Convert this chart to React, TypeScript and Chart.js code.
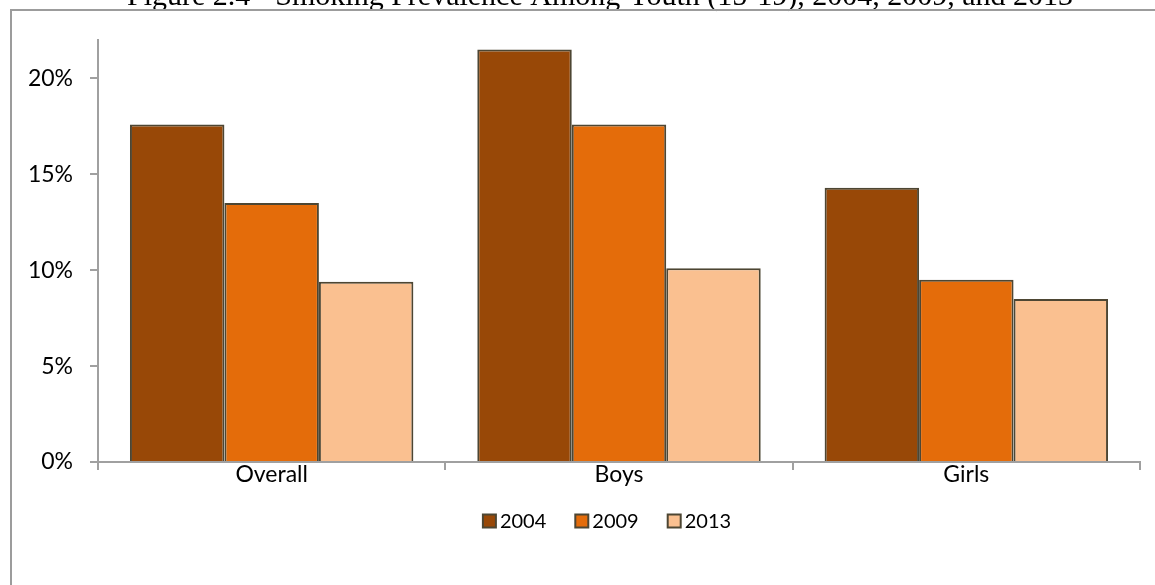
import React, { useEffect, useRef } from "react";
import { Chart, registerables } from "chart.js";

Chart.register(...registerables);

const TITLE = "Figure 2.4 - Smoking Prevalence Among Youth (15-19), 2004, 2009, and 2013";
const categories = ["Overall", "Boys", "Girls"];
const seriesYears = ["2004", "2009", "2013"];
const values2004 = [17.6, 21.5, 14.3];
const values2009 = [13.5, 17.6, 9.5];
const values2013 = [9.4, 10.1, 8.5];
const seriesColors = ["#984807", "#E46C0A", "#FAC090"];
const yTickStep = 5;
const yMax = 22;

const W = 1155;
const H = 585;
const LABEL_FONT = "Lato, 'Noto Sans', sans-serif";
const AXIS_COLOR = "#a0a0a0";
const BAR_BORDER = "#4d4633";

// Frame, clipped title line and legend, drawn around the plot.
const decorations = {
  id: "decorations",
  beforeDraw(chart: any) {
    const ctx = chart.ctx;
    ctx.save();
    ctx.fillStyle = "#ffffff";
    ctx.fillRect(0, 0, W, H);
    ctx.fillStyle = "#000000";
    ctx.font = "30px 'Liberation Serif', 'Times New Roman', serif";
    ctx.textAlign = "center";
    ctx.textBaseline = "alphabetic";
    ctx.fillText(TITLE, 600, 5);
    ctx.strokeStyle = "#9c9c9c";
    ctx.lineWidth = 2;
    ctx.beginPath();
    ctx.moveTo(11, H);
    ctx.lineTo(11, 10);
    ctx.lineTo(W, 10);
    ctx.stroke();
    ctx.restore();
  },
  afterDraw(chart: any) {
    const ctx = chart.ctx;
    const ds = chart.data.datasets;
    ctx.save();
    ctx.font = `20px ${LABEL_FONT}`;
    ctx.textBaseline = "middle";
    ctx.textAlign = "left";
    const box = 13;
    const gap = 4;
    const spacing = 29;
    const widths = ds.map((d: any) => box + gap + ctx.measureText(d.label).width);
    const total = widths.reduce((a: number, b: number) => a + b, 0) + spacing * (ds.length - 1);
    let x = 607 - total / 2;
    const y = 521;
    ds.forEach((d: any, i: number) => {
      ctx.fillStyle = d.backgroundColor;
      ctx.fillRect(x, y - box / 2, box, box);
      ctx.strokeStyle = BAR_BORDER;
      ctx.lineWidth = 2;
      ctx.strokeRect(x, y - box / 2, box, box);
      ctx.fillStyle = "#000000";
      ctx.fillText(d.label, x + box + gap, y + 1);
      x += widths[i] + spacing;
    });
    ctx.restore();
  },
};

export default function App() {
  const canvasRef = useRef<HTMLCanvasElement | null>(null);

  useEffect(() => {
    const canvas = canvasRef.current;
    if (!canvas) return;
    const seriesValues = [values2004, values2009, values2013];
    const chart = new Chart(canvas, {
      type: "bar",
      data: {
        labels: categories,
        datasets: seriesYears.map((year, i) => ({
          label: year,
          data: seriesValues[i],
          backgroundColor: seriesColors[i],
          borderColor: BAR_BORDER,
          borderWidth: 2,
          categoryPercentage: 0.816,
          barPercentage: 1,
        })),
      },
      options: {
        responsive: false,
        animation: false,
        layout: { padding: { top: 40, left: 0, right: 15, bottom: 0 } },
        plugins: {
          legend: { display: false },
          tooltip: { enabled: false },
          title: { display: false },
        },
        scales: {
          x: {
            afterFit(scale: any) {
              scale.height = 123;
            },
            grid: {
              offset: true,
              drawOnChartArea: false,
              drawTicks: true,
              tickLength: 8,
              color: AXIS_COLOR,
              lineWidth: 2,
            },
            border: { display: true, color: AXIS_COLOR, width: 2 },
            ticks: {
              color: "#000000",
              padding: -9,
              font: { family: LABEL_FONT, size: 23 },
            },
          },
          y: {
            min: 0,
            max: yMax,
            afterFit(scale: any) {
              scale.width = 98;
            },
            grid: {
              drawOnChartArea: false,
              drawTicks: true,
              tickLength: 8,
              color: AXIS_COLOR,
              lineWidth: 2,
            },
            border: { display: true, color: AXIS_COLOR, width: 2 },
            ticks: {
              stepSize: yTickStep,
              includeBounds: false,
              color: "#000000",
              padding: 17,
              font: { family: LABEL_FONT, size: 23 },
              callback: (v: any) => `${v}%`,
            },
          },
        },
      },
      plugins: [decorations],
    });
    return () => chart.destroy();
  }, []);

  return (
    <div style={{ position: "absolute", left: 0, top: 0, width: W, height: H, background: "#fff" }}>
      <canvas ref={canvasRef} width={W} height={H} style={{ display: "block", width: W, height: H }} />
    </div>
  );
}
